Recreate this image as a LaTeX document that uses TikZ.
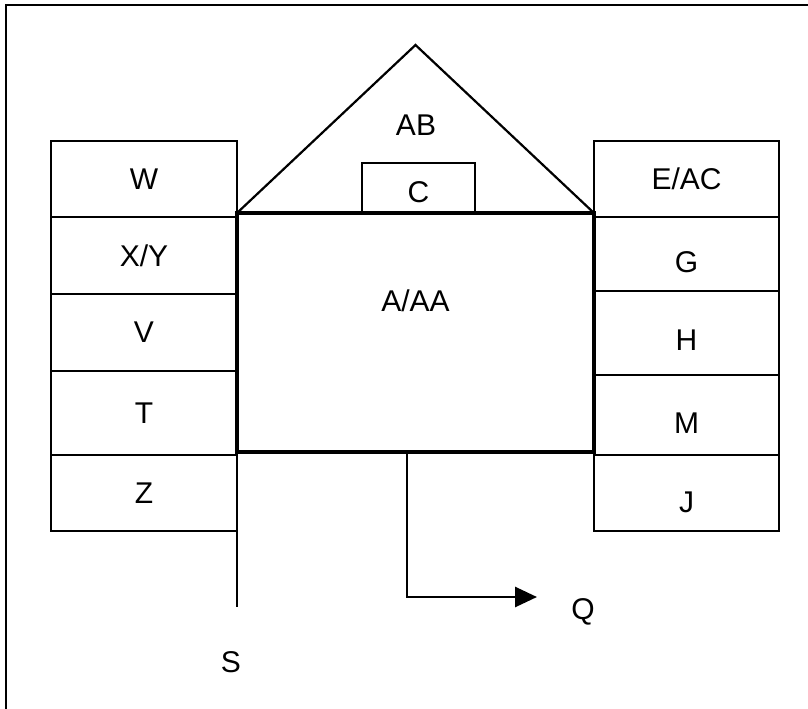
\documentclass[tikz,border=0pt]{standalone}
\usepackage{fontspec}
\setmainfont{Liberation Sans}
\usetikzlibrary{arrows.meta, positioning}

\begin{document}
\begin{tikzpicture}[x=1pt, y=-1pt,
      node distance=0pt,
      txt/.style={font=\fontsize{30}{36}\selectfont, inner sep=0pt},
      cell/.style={draw, line width=2.8pt, inner sep=0pt, outer sep=0pt,
                   minimum width=186pt, txt},
      rcell/.style={cell, minimum width=185pt},
      mainbox/.style={draw, line width=4.6pt, inner sep=0pt, outer sep=0pt,
                      minimum width=357pt, minimum height=239pt},
      arr/.style={-{Triangle[length=22pt, width=20pt]}, line width=2.8pt}
    ]
    \useasboundingbox (0,0) rectangle (808,709);
    \draw[line width=2pt] (6,720) -- (6,5) -- (820,5);

    % left column
    \node[cell, minimum height=76pt] (w) at (144,179) {W};
    \node[cell, minimum height=77pt, below=of w] (xy) {X/Y};
    \node[cell, minimum height=77pt, below=of xy] (v) {V};
    \node[cell, minimum height=84pt, below=of v] (t) {T};
    \node[cell, minimum height=76pt, below=of t] (z) {Z};

    % right column
    \node[rcell, minimum height=76pt] (eac) at (686.5,179) {E/AC};
    \node[rcell, minimum height=74pt, below=of eac,
          label={[txt, yshift=-8pt]center:G}] (g) {};
    \node[rcell, minimum height=84pt, below=of g,
          label={[txt, yshift=-7pt]center:H}] (h) {};
    \node[rcell, minimum height=80pt, below=of h,
          label={[txt, yshift=-8pt]center:M}] (m) {};
    \node[rcell, minimum height=76pt, below=of m,
          label={[txt, yshift=-9pt]center:J}] (j) {};

    % roof
    \coordinate (apex) at (415.5,45);
    \node[mainbox, label={[txt, yshift=32pt]center:A/AA}] (main) at (415.5,332.5) {};
    \draw[line width=2.2pt] (main.north west) -- (apex) -- (main.north east);
    \draw[line width=4.6pt] (main.north west) -- (main.north east);
    \node[txt] (ab) at (416,125) {AB};
    \node[cell, minimum width=113pt, minimum height=50pt,
          label={[txt, yshift=-4pt]center:C}, above=of main.north, xshift=3pt] (c) {};

    % outlets
    \coordinate (send) at (237,607);
    \draw[line width=2.8pt] (z.south east) -- (send);
    \node[txt] (s) at (231,662) {S};

    \coordinate (qbend) at (407,597);
    \coordinate (qtip) at (537,597);
    \draw[arr] (main.south -| qbend) -- (qbend) -- (qtip);
    \node[txt] (q) at (583,612) {Q};
  \end{tikzpicture}
\end{document}
